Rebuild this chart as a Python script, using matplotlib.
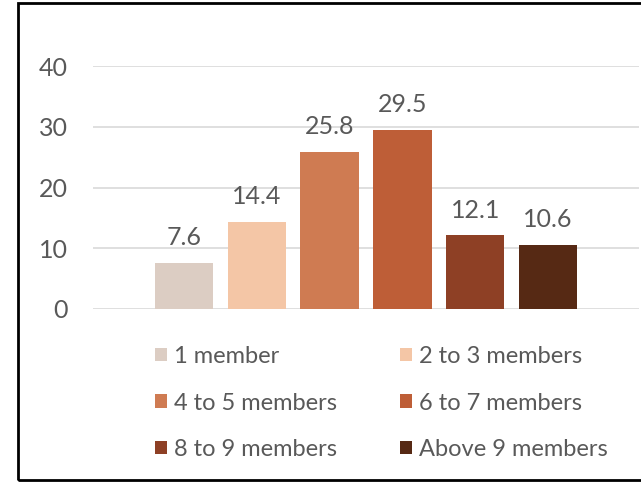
import matplotlib.pyplot as plt
from matplotlib.patches import Rectangle

# household size shares (%)
categories = ['1 member', '2 to 3 members', '4 to 5 members',
              '6 to 7 members', '8 to 9 members', 'Above 9 members']
values = [7.6, 14.4, 25.8, 29.5, 12.1, 10.6]
colors = ['#DCCDC3', '#F4C6A6', '#CF7B52', '#BE5E37', '#8E4025', '#562914']
yticks = [0, 10, 20, 30, 40]

plt.rcParams['font.family'] = ['Lato', 'DejaVu Sans']
text_col = '#595959'

fig = plt.figure(figsize=(6.41, 4.83), dpi=100)
ax = fig.add_axes([93 / 641, 1 - 309 / 483, (639 - 93) / 641, (309 - 66) / 483])

x = list(range(len(values)))
bars = ax.bar(x, values, width=0.8, color=colors, label=categories, zorder=3)
for b, v in zip(bars, values):
    ax.annotate(f'{v}', (b.get_x() + b.get_width() / 2, v), xytext=(0, 10),
                textcoords='offset points', ha='center', va='bottom',
                fontsize=18, color=text_col)

ax.set_xlim(-1.25, 6.25)
ax.set_ylim(0, 40)
ax.set_yticks(yticks)
ax.set_xticks([])
ax.grid(axis='y', color='#D9D9D9', linewidth=1.2, zorder=0)
ax.tick_params(axis='y', length=0, pad=18, labelsize=18, labelcolor=text_col)
for s in ax.spines.values():
    s.set_visible(False)

handles, labels = ax.get_legend_handles_labels()
# two legend columns, placed separately
leg_kw = dict(loc='upper left', frameon=False, fontsize=17, labelcolor=text_col,
              handlelength=0.5, handleheight=0.5, handletextpad=0.3,
              labelspacing=1.08, borderaxespad=0, borderpad=0)
leg1 = fig.legend(handles[0::2], labels[0::2],
                  bbox_to_anchor=(155 / 641, 1 - 346 / 483), **leg_kw)
leg2 = fig.legend(handles[1::2], labels[1::2],
                  bbox_to_anchor=(400 / 641, 1 - 346 / 483), **leg_kw)

fig.patches.append(Rectangle((18 / 641, 3 / 483), 1.0, 477 / 483,
                             transform=fig.transFigure, fill=False,
                             edgecolor='black', linewidth=2))

fig.savefig('out.png', dpi=100)
